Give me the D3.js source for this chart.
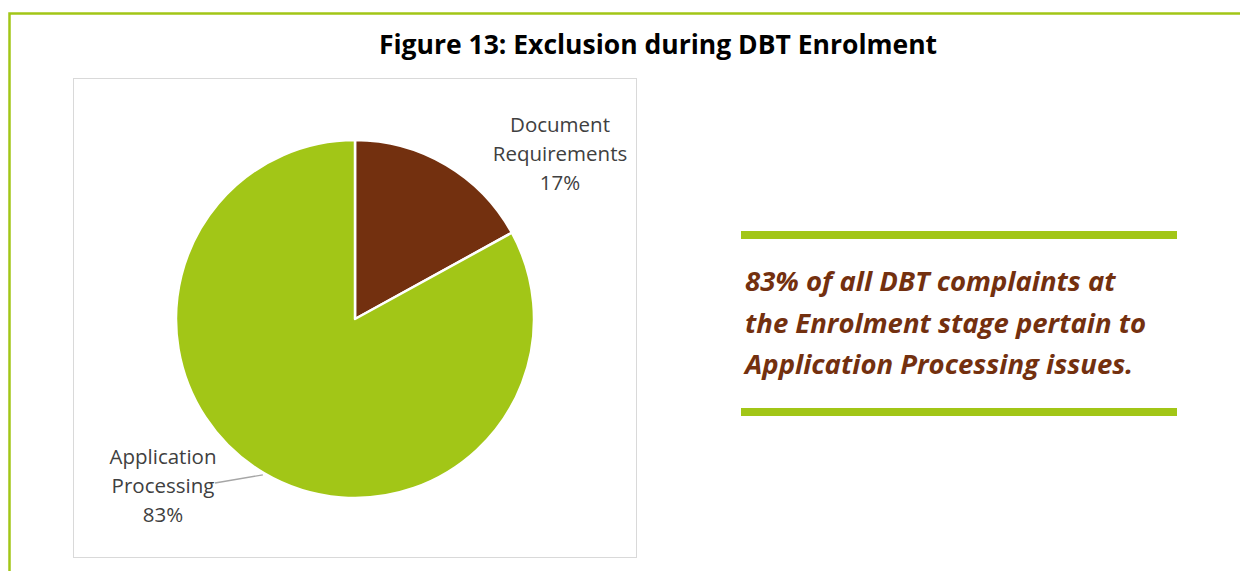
<!DOCTYPE html>
<html>
<head>
<meta charset="utf-8">
<script src="https://cdn.jsdelivr.net/npm/d3@7"></script>
<style>
  body { margin: 0; background: #fff; }
  svg { display: block; }
</style>
</head>
<body>
<svg id="chart"></svg>
<script>
const categories = ['Document Requirements', 'Application Processing']
const values = [17, 83]
const labelLines = [['Document', 'Requirements'], ['Application', 'Processing']]
const calloutLines = [
  '83% of all DBT complaints at',
  'the Enrolment stage pertain to',
  'Application Processing issues.'
]

const width = 1240,
  height = 571

const green = '#a2c617',
  brown = '#73300f'

const svg = d3.select('#chart')
  .attr('width', width)
  .attr('height', height)

// outer frame
svg.append('path')
  .attr('d', 'M9.5,600 V13.5 H1300')
  .attr('fill', 'none')
  .attr('stroke', green)
  .attr('stroke-width', 2.5)

svg.append('text')
  .attr('x', 658)
  .attr('y', 54)
  .attr('text-anchor', 'middle')
  .attr('font-family', '"Open Sans", sans-serif')
  .attr('font-weight', 'bold')
  .attr('font-size', 26.5)
  .attr('fill', '#000')
  .text('Figure 13: Exclusion during DBT Enrolment')

// chart area box
svg.append('rect')
  .attr('x', 73.5)
  .attr('y', 78.5)
  .attr('width', 563)
  .attr('height', 479)
  .attr('fill', '#fff')
  .attr('stroke', '#d9d9d9')
  .attr('stroke-width', 1)

const cx = 355, cy = 319, radius = 179

const color = d3.scaleOrdinal()
  .domain(categories)
  .range([brown, green])

const pie = d3.pie().sort(null).value(d => d.value)
const arc = d3.arc().innerRadius(0).outerRadius(radius)

const data = categories.map((c, i) => ({ name: c, value: values[i], lines: labelLines[i] }))
const arcs = pie(data)

const g = svg.append('g')
  .attr('transform', `translate(${cx},${cy})`)

g.selectAll('.slice')
  .data(arcs)
  .enter().append('path')
  .attr('class', 'slice')
  .attr('d', arc)
  .attr('fill', d => color(d.data.name))
  .attr('stroke', '#fff')
  .attr('stroke-width', 2.5)
  .attr('stroke-linejoin', 'round')

// label positions relative to center
const labelPos = [[205, -187], [-192, 145]]
const total = d3.sum(values)

// leader line for the big slice
const ap = arcs[1]
const mid = (ap.startAngle + ap.endAngle) / 2
const edge = [Math.sin(mid) * (radius + 2), -Math.cos(mid) * (radius + 2)]
g.append('line')
  .attr('x1', edge[0])
  .attr('y1', edge[1])
  .attr('x2', -140)
  .attr('y2', 164)
  .attr('stroke', '#a6a6a6')
  .attr('stroke-width', 1.3)

const labels = g.selectAll('.label')
  .data(arcs)
  .enter().append('text')
  .attr('class', 'label')
  .attr('text-anchor', 'middle')
  .attr('font-family', '"Open Sans", sans-serif')
  .attr('font-size', 20.5)
  .attr('fill', '#404040')

labels.each(function (d, i) {
  const t = d3.select(this)
  const lines = d.data.lines.concat([Math.round(d.data.value / total * 100) + '%'])
  lines.forEach((ln, j) => {
    t.append('tspan')
      .attr('x', labelPos[i][0])
      .attr('y', labelPos[i][1] + j * 29)
      .text(ln)
  })
})

// callout on the right
const bars = [231, 408]
svg.selectAll('.bar')
  .data(bars)
  .enter().append('rect')
  .attr('class', 'bar')
  .attr('x', 741)
  .attr('y', d => d)
  .attr('width', 436)
  .attr('height', 8)
  .attr('fill', green)

svg.selectAll('.callout')
  .data(calloutLines)
  .enter().append('text')
  .attr('class', 'callout')
  .attr('x', 745)
  .attr('y', (d, i) => 291 + i * 41.5)
  .attr('font-family', '"Open Sans", sans-serif')
  .attr('font-weight', 'bold')
  .attr('font-style', 'italic')
  .attr('font-size', 27.5)
  .attr('fill', brown)
  .text(d => d)
</script>
</body>
</html>
